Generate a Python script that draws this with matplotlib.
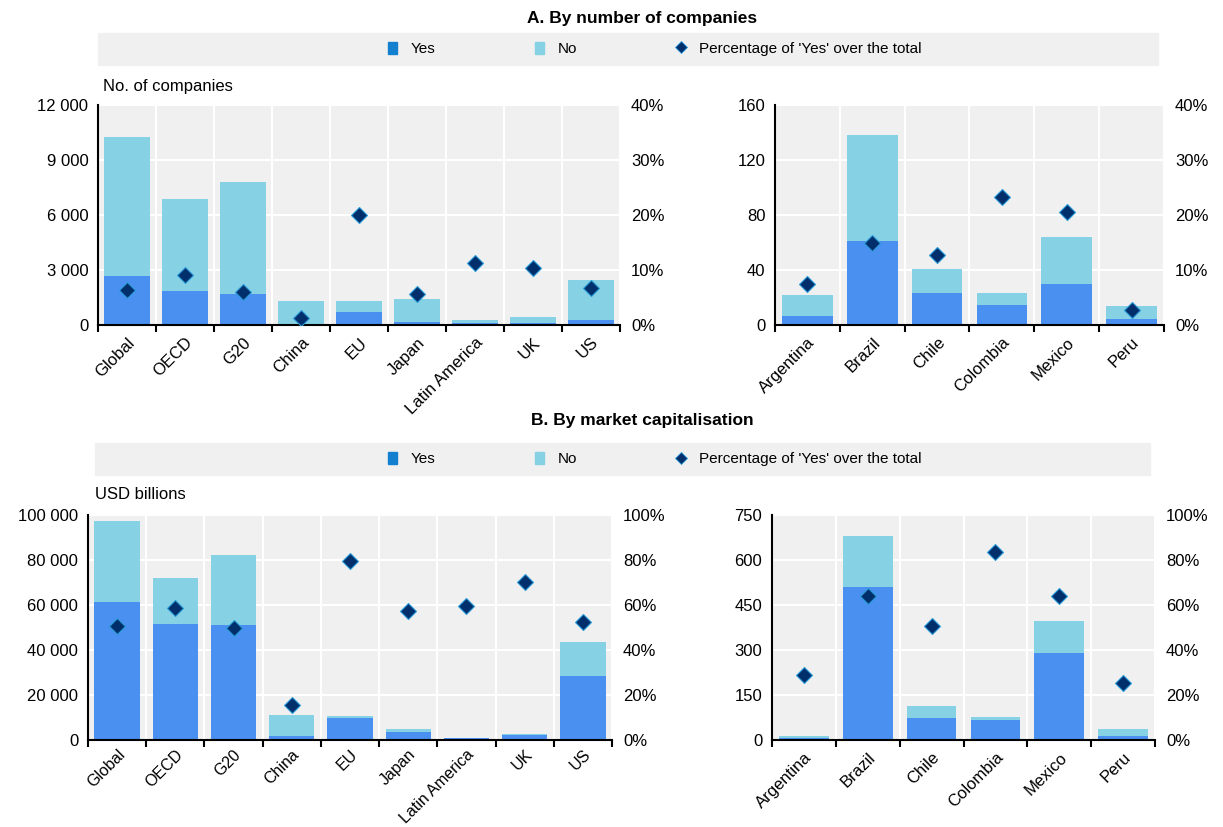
import numpy as np
import matplotlib
matplotlib.use("Agg")
import matplotlib.pyplot as plt
from matplotlib.patches import Patch, Rectangle
from matplotlib.lines import Line2D
from matplotlib.ticker import FuncFormatter, FixedLocator

plt.rcParams['font.family'] = ['Liberation Sans', 'DejaVu Sans']
plt.rcParams['font.size'] = 11.5

# ---- data ----
groups = ["Global", "OECD", "G20", "China", "EU", "Japan", "Latin America", "UK", "US"]
latam = ["Argentina", "Brazil", "Chile", "Colombia", "Mexico", "Peru"]

# A. number of companies
cnt_yes = [2660, 1850, 1670, 15, 690, 165, 110, 110, 270]
cnt_total = [10260, 6880, 7790, 1300, 1300, 1395, 270, 415, 2445]
cnt_pct = [6.3, 9.1, 6.0, 1.2, 20.0, 5.6, 11.3, 10.4, 6.7]

cnt_yes_la = [6.4, 61, 23.6, 14.3, 29.6, 4.3]
cnt_total_la = [22, 138, 41, 23, 64, 13.6]
cnt_pct_la = [7.5, 14.9, 12.7, 23.2, 20.6, 2.8]

# B. market capitalisation (USD billions)
cap_yes = [61500, 51600, 51100, 1900, 9600, 3400, 700, 2100, 28600]
cap_total = [97500, 72000, 82400, 11000, 10800, 4700, 1000, 2800, 43700]
cap_pct = [50.5, 58.7, 49.8, 15.4, 79.6, 57.2, 59.7, 70.2, 52.6]

cap_yes_la = [7.8, 511, 72, 68, 289, 13.3]
cap_total_la = [14.4, 681, 112, 78, 396, 38]
cap_pct_la = [29.0, 63.9, 50.7, 83.6, 64.2, 25.2]

C_YES = '#4A90F0'
C_NO = '#86D1E3'
C_YES_LEG = '#137FCF'
C_DIA = '#002F6C'
C_DIA_EDGE = '#2A9AD8'
BG = '#F0F0F0'

W, H = 1223, 827
fig = plt.figure(figsize=(W / 100, H / 100), dpi=100)


def px_axes(x0, y0, x1, y1):
    return fig.add_axes([x0 / W, 1 - y1 / H, (x1 - x0) / W, (y1 - y0) / H])


def space_thousands(v, pos):
    return f"{int(round(v)):,}".replace(",", " ")


def panel(rect, cats, yes, total, pct, ymax, ystep, pmax, pstep, xfs=12, xpad=7):
    ax = px_axes(*rect)
    x = np.arange(len(cats))
    no = np.array(total) - np.array(yes)
    ax.set_facecolor(BG)
    ax.bar(x, yes, width=0.78, color=C_YES, zorder=3)
    ax.bar(x, no, width=0.78, bottom=yes, color=C_NO, zorder=3)
    ax.set_xlim(-0.5, len(cats) - 0.5)
    ax.set_ylim(0, ymax)
    ax.set_yticks(np.arange(0, ymax + 1, ystep))
    ax.yaxis.set_major_formatter(FuncFormatter(space_thousands))
    ax.set_xticks(x)
    ax.set_xticklabels(cats, rotation=45, ha='right', rotation_mode='anchor', fontsize=xfs)
    ax.xaxis.set_minor_locator(FixedLocator(np.arange(-0.5, len(cats), 1.0)))
    ax.tick_params(axis='x', which='major', length=0, pad=xpad)
    ax.tick_params(axis='x', which='minor', length=5, width=1.5, direction='out')
    ax.tick_params(axis='y', length=0, pad=7, labelsize=12)
    ax.grid(axis='y', color='white', linewidth=1.5, zorder=0)
    ax.grid(axis='x', which='minor', color='white', linewidth=1.5, zorder=0)
    for s in ['top', 'right']:
        ax.spines[s].set_visible(False)
    for s in ['left', 'bottom']:
        ax.spines[s].set_linewidth(1.5)
        ax.spines[s].set_zorder(5)

    ax2 = ax.twinx()
    ax2.plot(x, pct, linestyle='none', marker='D', markersize=8,
             markerfacecolor=C_DIA, markeredgecolor=C_DIA_EDGE, markeredgewidth=0.8,
             zorder=6)
    ax2.set_ylim(0, pmax)
    ax2.set_yticks(np.arange(0, pmax + 1, pstep))
    ax2.yaxis.set_major_formatter(FuncFormatter(lambda v, p: f"{int(v)}%"))
    ax2.tick_params(axis='y', length=0, pad=8, labelsize=12)
    for s in ax2.spines.values():
        s.set_visible(False)
    return ax


def legend_bar(y0, y1, x0, x1, title, ty):
    fig.patches.append(Rectangle((x0 / W, 1 - y1 / H), (x1 - x0) / W, (y1 - y0) / H,
                                 transform=fig.transFigure, color=BG, zorder=0))
    fig.text(642 / W, 1 - ty / H, title, ha='center', va='center',
             fontsize=12.5, fontweight='bold')
    handles = [Patch(color=C_YES_LEG), Patch(color=C_NO),
               Line2D([], [], linestyle='none', marker='D', markersize=6,
                      markerfacecolor=C_DIA, markeredgecolor=C_DIA_EDGE, markeredgewidth=0.6)]
    fig.legend(handles, ["Yes", "No", "Percentage of 'Yes' over the total"],
               loc='center', bbox_to_anchor=(655 / W, 1 - (y0 + y1) / 2 / H),
               ncol=3, frameon=False, handlelength=0.6, handleheight=0.9,
               handletextpad=0.9, columnspacing=6.5, fontsize=11)


legend_bar(33, 65, 98, 1158, "A. By number of companies", 18)
legend_bar(443, 475, 95, 1150, "B. By market capitalisation", 421)

panel((98, 105, 620, 325), groups, cnt_yes, cnt_total, cnt_pct, 12000, 3000, 40, 10)
panel((775, 105, 1164, 325), latam, cnt_yes_la, cnt_total_la, cnt_pct_la, 160, 40, 40, 10)
panel((88, 515, 612, 740), groups, cap_yes, cap_total, cap_pct, 100000, 20000, 100, 20,
      xfs=11.5, xpad=5)
panel((772, 515, 1155, 740), latam, cap_yes_la, cap_total_la, cap_pct_la, 750, 150, 100, 20)

fig.text(103 / W, 1 - 86 / H, "No. of companies", ha='left', va='center', fontsize=12)
fig.text(95 / W, 1 - 495 / H, "USD billions", ha='left', va='center', fontsize=12)

fig.savefig("out.png", dpi=100)
